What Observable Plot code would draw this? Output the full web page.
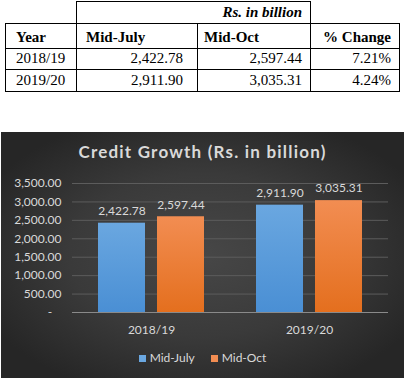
<!DOCTYPE html>
<html><head><meta charset="utf-8">
<script src="https://cdn.jsdelivr.net/npm/d3@7"></script>
<script src="https://cdn.jsdelivr.net/npm/@observablehq/plot@0.6"></script>
<style>
html,body{margin:0;padding:0;background:#fff}
body{width:406px;height:382px;position:relative;overflow:hidden}
#tbl{position:absolute;left:5px;top:1px;border-collapse:collapse;table-layout:fixed;font-family:"Liberation Serif","Times New Roman",serif;font-size:15px;color:#000}
#tbl td{border:1px solid #000;padding:0 8px 2px 8px;vertical-align:bottom;white-space:nowrap;line-height:17px}
#tbl td.nb{border:none}
#tbl td.nbt{border-top:none;border-right:none}
#tbl td.r{text-align:right}
#tbl td.b{font-weight:bold}
#tbl td.c0{padding-left:10px}
#tbl td.c1{padding-left:9px;padding-right:14px}
#tbl td.c2{padding-left:6px}
#panel{position:absolute;left:1px;top:132px;width:403px;height:246px;
 background:radial-gradient(ellipse 60% 60% at 50% 50%, #474747 0%, #3a3a3a 55%, #262626 100%)}
#title{position:absolute;left:0;width:403px;top:11px;text-align:center;font-family:Lato,sans-serif;font-weight:bold;font-size:17px;line-height:17px;letter-spacing:1.2px;color:#d9d9d9}
#chart{position:absolute;left:0;top:33px}
#legend{position:absolute;left:0;width:403px;top:219px;text-align:center;font-family:Lato,sans-serif;font-size:12px;line-height:14px;color:#d9d9d9}
#legend span.item{display:inline-block;margin:0 8px}
#legend span.sw{display:inline-block;width:7px;height:7px;margin-right:4px;vertical-align:0px}
</style></head><body>
<table id="tbl"></table>
<div id="panel">
  <div id="title"></div>
  <div id="chart"></div>
  <div id="legend"></div>
</div>
<script>
const titleText = "Credit Growth (Rs. in billion)";
const unitText = "Rs. in billion";
const years = ["2018/19", "2019/20"];
const series = ["Mid-July", "Mid-Oct"];
const midJuly = [2422.78, 2911.90];
const midOct = [2597.44, 3035.31];
const pctChange = ["7.21%", "4.24%"];
const yTicks = [0, 500, 1000, 1500, 2000, 2500, 3000, 3500];
const colors = {"Mid-July": ["#6aa7e0", "#4a8fd4"], "Mid-Oct": ["#f28d52", "#e46f1e"]};

const fmt = d3.format(",.2f");

// table
const tbl = document.getElementById("tbl");
const colW = [71, 121, 113, 89];
const cg = document.createElement("colgroup");
colW.forEach(w => { const c = document.createElement("col"); c.style.width = w + "px"; cg.appendChild(c); });
tbl.appendChild(cg);
function row(h, cells) {
  const tr = document.createElement("tr");
  tr.style.height = h + "px";
  cells.forEach(([txt, cls, span]) => {
    const td = document.createElement("td");
    td.textContent = txt;
    if (cls) td.className = cls;
    if (span) td.colSpan = span;
    tr.appendChild(td);
  });
  tbl.appendChild(tr);
}
row(22, [["", "nb"], ["", "r b", 2], ["", "nbt"]]);
tbl.rows[0].cells[1].innerHTML = "<i>" + unitText + "</i>";
row(25, [["Year", "b c0"], [series[0], "b c1"], [series[1], "b c2"], ["% Change", "b r"]]);
years.forEach((y, i) => row(i === 0 ? 21 : 22, [[y, "c0"], [fmt(midJuly[i]), "r c1"], [fmt(midOct[i]), "r"], [pctChange[i], "r"]]));

document.getElementById("title").textContent = titleText;

const rows = years.flatMap((y, i) => [
  {year: y, series: series[0], value: midJuly[i]},
  {year: y, series: series[1], value: midOct[i]}
]);

const defs = () => {
  const d = d3.create("svg:defs");
  series.forEach((s, i) => {
    const g = d.append("linearGradient").attr("id", "g" + i).attr("x1", 0).attr("y1", 0).attr("x2", 0).attr("y2", 1);
    g.append("stop").attr("offset", "0%").attr("stop-color", colors[s][0]);
    g.append("stop").attr("offset", "100%").attr("stop-color", colors[s][1]);
  });
  return d.node();
};

const plot = Plot.plot({
  width: 403, height: 180,
  marginLeft: 71, marginRight: 16, marginTop: 18, marginBottom: 33,
  style: {background: "transparent", color: "#d9d9d9", fontFamily: "Lato, sans-serif", fontSize: "12px", overflow: "visible"},
  facet: {data: rows, x: "year"},
  fx: {domain: years, padding: 0, label: null, axis: "bottom", tickSize: 0, tickPadding: 13},
  x: {domain: series, axis: null, paddingInner: 0.2, paddingOuter: 0.417},
  y: {domain: [0, 3500], ticks: yTicks, tickFormat: d => d === 0 ? "-\u00a0\u00a0\u00a0" : fmt(d), tickSize: 0, tickPadding: 11, label: null},
  marks: [
    defs,
    Plot.ruleY(yTicks.filter(t => t > 0), {stroke: "#5c5c5c", strokeWidth: 1}),
    Plot.barY(rows, {filter: d => d.series === series[0], x: "series", y: "value", fill: "url(#g0)"}),
    Plot.barY(rows, {filter: d => d.series === series[1], x: "series", y: "value", fill: "url(#g1)"}),
    Plot.ruleY([0], {stroke: "#8a8a8a", strokeWidth: 1}),
    Plot.text(rows, {x: "series", y: "value", text: d => fmt(d.value), dy: -12, fill: "#d9d9d9", fontSize: 12})
  ]
});
document.getElementById("chart").appendChild(plot);

const lg = document.getElementById("legend");
series.forEach(s => {
  const it = document.createElement("span");
  it.className = "item";
  const sw = document.createElement("span");
  sw.className = "sw";
  sw.style.background = colors[s][0];
  it.appendChild(sw);
  it.appendChild(document.createTextNode(s));
  lg.appendChild(it);
});
</script>
</body></html>
